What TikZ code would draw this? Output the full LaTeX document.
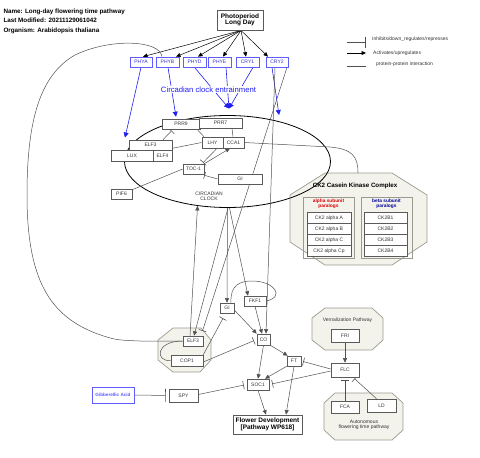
\documentclass[tikz,border=0pt]{standalone}
\usepackage{fontspec}
\setmainfont{Liberation Sans}
\usetikzlibrary{arrows.meta,shapes.geometric}
\definecolor{bgray}{HTML}{5A5A5A}
\definecolor{lgray}{HTML}{505050}
\definecolor{tgray}{HTML}{333333}
\definecolor{pblue}{HTML}{5C5CFF}
\definecolor{tblue}{HTML}{3030CC}
\definecolor{eblue}{HTML}{1F1FEE}
\definecolor{grpfill}{HTML}{F3F3EB}
\definecolor{grpdraw}{HTML}{9A9A90}
\definecolor{alphared}{HTML}{DD0000}
\definecolor{betablue}{HTML}{000099}
\newcommand\fsz[1]{\fontsize{#1}{#1}\selectfont}
\pgfdeclarelayer{back}
\pgfdeclarelayer{mid}
\pgfsetlayers{back,mid,main}
\begin{document}
\begin{tikzpicture}[x=1pt,y=-1pt,
  box/.style={draw=bgray,line width=0.6pt,fill=white,inner sep=0pt,font=\fsz{5},text=tgray},
  pbox/.style={draw=pblue,line width=0.7pt,fill=white,inner sep=0pt,font=\fsz{5},text=tblue},
  ln/.style={draw=lgray,line width=0.5pt},
  act/.style={ln,-{Triangle[length=4.5pt,width=4pt]}},
  inh/.style={ln,-{Bar[width=8pt,line width=0.6pt]}},
  bact/.style={draw=black,line width=0.5pt,-{Triangle[length=4.5pt,width=4pt]}},
  blact/.style={draw=eblue,line width=0.6pt,-{Triangle[length=5pt,width=5pt]}},
  grp/.style={draw=grpdraw,fill=grpfill,line width=0.7pt},
  lbl/.style={inner sep=0pt,text=tgray}
]
\useasboundingbox (0,0) rectangle (480,458);

% header
\node[lbl,anchor=base west,font=\bfseries\fsz{6.3},text=black] (tname) at (3.3,13) {Name: Long-day flowering time pathway};
\node[lbl,anchor=base west,font=\bfseries\fsz{6.3},text=black] (tmod) at (3.3,22.5) {Last Modified: 20211129061042};
\node[lbl,anchor=base west,font=\bfseries\fsz{6.3},text=black] (torg) at (3.3,32) {Organism: Arabidopsis thaliana};

% legend
\coordinate (lg1a) at (347,42); \coordinate (lg1b) at (366,42);
\coordinate (lg2a) at (347,53); \coordinate (lg2b) at (366,53);
\coordinate (lg3a) at (347,66); \coordinate (lg3b) at (366,66);
\draw[ln,-{Bar[width=11pt,line width=0.6pt]}] (lg1a) -- (lg1b);
\draw[bact] (lg2a) -- (lg2b);
\draw[ln] (lg3a) -- (lg3b);
\node[lbl,anchor=west,font=\fsz{5}] (lgt1) at (372,39) {Inhibits/down\_regulates/represses};
\node[lbl,anchor=west,font=\fsz{5}] (lgt2) at (373,53) {Activates/upregulates};
\node[lbl,anchor=west,font=\fsz{5}] (lgt3) at (376,64) {protein-protein interaction};

% groups
\begin{pgfonlayer}{back}
\draw[grp] (325,173)--(392,173)--(427,195)--(427,242)--(392,265)--(325,265)--(290,242)--(290,195)--cycle;
\draw[grpdraw,line width=0.7pt] (303,197) rectangle (354,258);
\draw[grpdraw,line width=0.7pt] (361,197) rectangle (412,258);
\draw[grp] (173,328)--(201,328)--(211,340)--(211,360)--(200,372)--(173,372)--(158,360)--(158,340)--cycle;
\draw[grp] (325,308)--(372,308)--(383,318)--(383,340)--(372,350)--(325,350)--(312,340)--(312,318)--cycle;
\draw[grp] (335,393)--(392,393)--(403,403)--(403,430)--(392,440)--(335,440)--(324,430)--(324,403)--cycle;
\node[draw=black,line width=0.8pt,ellipse,minimum width=206pt,minimum height=92pt,inner sep=0pt] (clock) at (227.5,161.5) {};
\end{pgfonlayer}
\coordinate (ck2top) at (358,173);
\node[lbl,font=\bfseries\fsz{6.2},text=black] (ck2t) at (355,186) {CK2 Casein Kinase Complex};
\node[lbl,font=\bfseries\fsz{4.8},text=alphared,align=center] (alab) at (328.5,204) {alpha subunit\\paralogs};
\node[lbl,font=\bfseries\fsz{4.8},text=betablue,align=center] (blab) at (386.5,204) {beta subunit\\paralogs};
\node[lbl,font=\fsz{5}] (vlab) at (347.5,320) {Vernalization Pathway};
\node[lbl,font=\fsz{5},align=center] (alab2) at (364,424.5) {Autonomous\\flowering time pathway};
\node[lbl,font=\fsz{5},align=center] (cclab) at (209,196) {CIRCADIAN\\CLOCK};

% top nodes
\node[box,draw=bgray,line width=0.9pt,minimum width=46pt,minimum height=20pt,font=\bfseries\fsz{6.5},text=black,align=center] (photo) at (240,20) {Photoperiod\\Long Day};
\node[pbox,minimum width=22pt,minimum height=10pt] (phya) at (141,62) {PHYA};
\node[pbox,minimum width=23pt,minimum height=10pt] (phyb) at (167.5,62) {PHYB};
\node[pbox,minimum width=23pt,minimum height=10pt] (phyd) at (194.5,62) {PHYD};
\node[pbox,minimum width=23pt,minimum height=10pt] (phye) at (219.5,62) {PHYE};
\node[pbox,minimum width=23pt,minimum height=10pt] (cry1) at (247.5,62) {CRY1};
\node[pbox,minimum width=22pt,minimum height=10pt] (cry2) at (277,62) {CRY2};

% clock nodes
\node[box,minimum width=38pt,minimum height=10pt] (prr9) at (181,124) {PRR9};
\node[box,minimum width=43pt,minimum height=10pt] (prr7) at (220.5,123) {PRR7};
\node[box,minimum width=43pt,minimum height=10pt] (elf3a) at (150.5,145) {ELF3};
\node[box,minimum width=42pt,minimum height=11pt] (lux) at (132,155.5) {LUX};
\node[box,minimum width=19pt,minimum height=11pt] (elf4) at (162.5,155.5) {ELF4};
\node[box,minimum width=21pt,minimum height=11pt] (lhy) at (212.5,142.5) {LHY};
\node[box,minimum width=21pt,minimum height=11pt] (cca1) at (233.5,142.5) {CCA1};
\node[box,minimum width=21pt,minimum height=10pt] (toc1) at (193.5,169) {TOC-1};
\node[box,minimum width=44pt,minimum height=10pt] (gia) at (240,179) {GI};
\node[box,minimum width=21pt,minimum height=10pt] (pif6) at (121.5,194) {PIF6};

% CK2 members
\node[box,minimum width=44pt,minimum height=11pt] (ca) at (329,218) {CK2 alpha A};
\node[box,minimum width=44pt,minimum height=11pt] (cb) at (329,229) {CK2 alpha B};
\node[box,minimum width=44pt,minimum height=11pt] (cc) at (329,240) {CK2 alpha C};
\node[box,minimum width=44pt,minimum height=11pt] (cp) at (329,251) {CK2 alpha Cp};
\node[box,minimum width=43pt,minimum height=11pt] (b1) at (385.5,218) {CK2B1};
\node[box,minimum width=43pt,minimum height=11pt] (b2) at (385.5,229) {CK2B2};
\node[box,minimum width=43pt,minimum height=11pt] (b3) at (385.5,240) {CK2B3};
\node[box,minimum width=43pt,minimum height=11pt] (b4) at (385.5,251) {CK2B4};

% lower nodes
\node[box,minimum width=22pt,minimum height=10pt] (fkf1) at (255,301) {FKF1};
\node[box,minimum width=14pt,minimum height=10pt] (gib) at (227,308) {GI};
\node[box,minimum width=20pt,minimum height=10pt] (elf3b) at (193,341) {ELF3};
\node[box,minimum width=32pt,minimum height=11pt] (cop1) at (187,360.5) {COP1};
\node[box,minimum width=13pt,minimum height=11pt] (co) at (263.5,339.5) {CO};
\node[box,minimum width=14pt,minimum height=10pt] (ft) at (294,361) {FT};
\node[box,minimum width=22pt,minimum height=11pt] (soc1) at (258,384.5) {SOC1};
\node[box,minimum width=29pt,minimum height=13pt] (spy) at (183.5,395.5) {SPY};
\node[box,draw=pblue,line width=0.9pt,minimum width=42pt,minimum height=16pt,font=\bfseries\fsz{4.6},text=pblue] (ga) at (113,395) {Gibberellic Acid};
\node[box,line width=0.8pt,minimum width=69pt,minimum height=19pt,font=\bfseries\fsz{6.5},text=black,align=center] (flower) at (267.5,424.5) {Flower Development\\{[Pathway WP618]}};
\node[box,minimum width=28pt,minimum height=13pt] (fri) at (345,335.5) {FRI};
\node[box,minimum width=28pt,minimum height=14pt] (flc) at (345,370) {FLC};
\node[box,minimum width=28pt,minimum height=12pt] (fca) at (345,407) {FCA};
\node[box,minimum width=29pt,minimum height=13pt] (ld) at (381.5,405.5) {LD};

\coordinate (phyaT) at (125,137.5);
\coordinate (cry2T) at (279,115);
\coordinate (ent) at (229,108.5);

\begin{pgfonlayer}{mid}
% photoperiod arrows
\draw[bact] ([xshift=1pt]photo.south) -- ([xshift=2pt]phya.north);
\draw[bact] ([xshift=1pt]photo.south) -- ([xshift=8.5pt]phyb.north);
\draw[bact] ([xshift=1pt]photo.south) -- ([xshift=3.5pt]phyd.north);
\draw[bact] ([xshift=1pt]photo.south) -- ([xshift=3.5pt]phye.north);
\draw[bact] ([xshift=1pt]photo.south) -- ([xshift=-1.5pt]cry1.north);
\draw[bact] ([xshift=1pt]photo.south) -- ([xshift=-9pt]cry2.north);
% blue arrows
\draw[blact] (phya.south) -- (phyaT);
\draw[blact] ([xshift=0.5pt]phyb.south) -- ([xshift=-5pt,yshift=2pt]prr9.north);
\draw[blact] (phyd.south) -- (ent);
\draw[blact] ([xshift=6.5pt]phye.south) -- (ent);
\draw[blact] ([xshift=5.5pt]cry1.south) -- (ent);
\draw[blact] ([xshift=-5pt]cry2.south) -- (cry2T);
% big loop PHYB - ELF3
\draw[ln] ([xshift=-5.5pt]phyb.north) .. controls (160,40) and (110,38) .. (75,55)
  .. controls (40,75) and (27,120) .. (27,195)
  .. controls (27,280) and (50,315) .. (95,333)
  .. controls (115,340) .. (140,341) -- (elf3b.west);
% clock internals
\draw[inh,shorten >=2pt] ([xshift=12.5pt]elf3a.north) -- ([xshift=-8pt]prr9.south);
\draw[ln] ([xshift=16pt]prr9.south) -- ([xshift=-8.5pt]lhy.north);
\draw[ln] ([xshift=11.5pt]prr7.south) -- ([xshift=-0.5pt]cca1.north);
\draw[ln] ([yshift=2pt]elf3a.south east) -- (lhy.west);
\draw[inh] ([xshift=4.5pt]lhy.south) -- ([xshift=9.5pt,yshift=1pt]toc1.north);
\draw[act] (toc1.north east) -- ([xshift=-3.5pt]cca1.south);
\draw[inh,-{Bar[width=7pt,line width=0.6pt]}] (gia.west) -- ([yshift=-1pt]toc1.south east);
\draw[ln] ([yshift=-1pt]pif6.north east) -- (toc1.west);
\draw[ln] (cca1.east) -- (330,147) .. controls (352,149) and (358,156) .. (ck2top);
% clock to lower
\draw[act] (clock.south) -- (gib.north);
\draw[act] ([xshift=2pt]clock.south) -- ([xshift=-7pt]fkf1.north);
\draw[act] ([xshift=0.5pt]clock.south) -- ([xshift=1pt]elf3b.north);
\draw[act] ([xshift=-3pt]elf3b.north) -- (clock.236);
\draw[inh,shorten >=5pt] ([xshift=10pt]cry2.south) -- ([xshift=8pt]elf3b.north);
\draw[act] ([xshift=-2pt]cry2.south) -- ([xshift=2.5pt]co.north);
% lower
\draw[ln] (elf3b.west) .. controls (155,341) and (155,362) .. (cop1.west);
\draw[ln] ([xshift=4pt]gib.north) .. controls (230,285) and (240,281) .. (252,281)
  .. controls (275,281) and (285,297) .. (fkf1.east);
\draw[inh] (cop1.north east) -- ([xshift=-4pt,yshift=-5pt]gib.south);
\draw[inh,shorten >=3pt] ([yshift=-1.5pt]cop1.east) -- (co.west);
\draw[act] ([yshift=-2pt]gib.east) -- (co.north west);
\draw[act] (fkf1.south) -- ([xshift=-1.5pt]co.north);
\draw[act] (co.south east) -- ([xshift=1pt]ft.north west);
\draw[act] (co.south) -- (soc1.north);
\draw[act] (ft.south west) -- ([xshift=7pt]soc1.north);
\draw[inh,shorten >=2pt] ([yshift=1pt]flc.west) -- (ft.east);
\draw[inh,shorten >=3pt] ([yshift=-1pt]flc.west) -- (soc1.east);
\draw[act] (fri.south) -- (flc.north);
\draw[inh,shorten >=3pt] (fca.north) -- (flc.south);
\draw[inh,shorten >=2pt] ([xshift=-5pt]ld.north) -- ([xshift=8pt]flc.south);
\draw[act] (soc1.south) -- ([xshift=-1.5pt]flower.north);
\draw[act] (ft.south) -- ([xshift=18.5pt]flower.north);
\draw[inh,-{Bar[width=13pt,line width=0.6pt]},shorten >=3pt] (ga.east) -- (spy.west);
\draw[inh,shorten >=3pt] ([yshift=1pt]spy.east) -- (soc1.west);
\end{pgfonlayer}

\node[fill=white,inner sep=0.6pt,font=\fsz{7.7},text=eblue] (entl) at (208.5,89.5) {Circadian clock entrainment};
\end{tikzpicture}
\end{document}
